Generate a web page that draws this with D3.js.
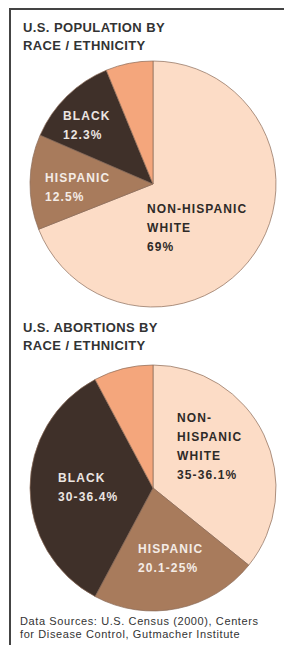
<!DOCTYPE html>
<html>
<head>
<meta charset="utf-8">
<script src="https://cdn.jsdelivr.net/npm/d3@7"></script>
<style>
  body { margin: 0; background: #fff; }
  svg { display: block; font-family: "Liberation Sans", Arial, sans-serif; }
</style>
</head>
<body>
<div id="chart"></div>
<script>
// Slice groups, clockwise from 12 o'clock
const groups = ["Non-Hispanic White", "Hispanic", "Black", "Other"];

// U.S. population share (%)
const popValues = [69, 12.5, 12.3, 6.2];
const popText = ["69%", "12.5%", "12.3%", ""];

// U.S. abortions share (%), slice sizes
const abortValues = [35.8, 22.0, 34.4, 7.8];
const abortText = ["35-36.1%", "20.1-25%", "30-36.4%", ""];

const popNames = [["NON-HISPANIC", "WHITE"], ["HISPANIC"], ["BLACK"], []];
const abortNames = [["NON-", "HISPANIC", "WHITE"], ["HISPANIC"], ["BLACK"], []];

const titles = [
  ["U.S. POPULATION BY", "RACE / ETHNICITY"],
  ["U.S. ABORTIONS BY", "RACE / ETHNICITY"]
];
const sourceLines = [
  "Data Sources: U.S. Census (2000), Centers",
  "for Disease Control, Gutmacher Institute"
];

const width = 284;
const height = 645;
const radius = 123;

const color = d3.scaleOrdinal()
  .domain(groups)
  .range(["#fcdcc6", "#a87b5c", "#3f3029", "#f4a67c"]);

const textColor = d3.scaleOrdinal()
  .domain(groups)
  .range(["#2e2a28", "#f4ece6", "#ece6e2", "#333"]);

const svg = d3.select("#chart").append("svg")
  .attr("width", width)
  .attr("height", height);

// frame (only top and left edges show)
svg.append("line")
  .attr("x1", 10).attr("x2", width)
  .attr("y1", 9).attr("y2", 9)
  .attr("stroke", "#444").attr("stroke-width", 2);
svg.append("line")
  .attr("x1", 10).attr("x2", 10)
  .attr("y1", 8).attr("y2", height)
  .attr("stroke", "#444").attr("stroke-width", 2);

const pie = d3.pie().sort(null).value(d => d.value);
const arc = d3.arc().innerRadius(0).outerRadius(radius);

// label offsets from the pie centre: [dx, dy] of first baseline
const popLabelPos = [[-6, 29], [-108, -2], [-90, -64], null];
const abortLabelPos = [[24, -66], [-15, 65], [-95, -6], null];

function drawPie(cx, cy, values, names, texts, labelPos, title, titleY) {
  const data = groups.map((g, i) => ({ group: g, value: values[i], names: names[i], text: texts[i], pos: labelPos[i] }));

  // title
  svg.append("text")
    .attr("x", 23)
    .attr("y", titleY)
    .attr("fill", "#333")
    .style("font-size", "13px")
    .style("font-weight", "bold")
    .style("letter-spacing", "0.4px")
    .selectAll("tspan")
    .data(title)
    .enter()
    .append("tspan")
    .attr("x", 23)
    .attr("dy", (d, i) => i === 0 ? 0 : 18)
    .text(d => d);

  const g = svg.append("g")
    .attr("transform", `translate(${cx},${cy})`);

  g.selectAll("path")
    .data(pie(data))
    .enter()
    .append("path")
    .attr("d", arc)
    .attr("fill", d => color(d.data.group))
    .attr("stroke", "#8a6a58")
    .attr("stroke-width", 0.7);

  data.forEach(d => {
    if (!d.pos) return;
    const lines = d.names.concat([d.text]);
    const t = g.append("text")
      .attr("x", d.pos[0])
      .attr("y", d.pos[1])
      .attr("fill", textColor(d.group))
      .style("font-size", "12px")
      .style("font-weight", "bold")
      .style("letter-spacing", "1.1px");
    lines.forEach((line, i) => {
      t.append("tspan")
        .attr("x", d.pos[0])
        .attr("dy", i === 0 ? 0 : 19)
        .text(line);
    });
  });
}

drawPie(153, 184, popValues, popNames, popText, popLabelPos, titles[0], 32);
drawPie(153, 488, abortValues, abortNames, abortText, abortLabelPos, titles[1], 332);

// sources
svg.append("text")
  .attr("x", 20)
  .attr("y", 625)
  .attr("fill", "#333")
  .style("font-size", "11px")
  .style("letter-spacing", "0.6px")
  .selectAll("tspan")
  .data(sourceLines)
  .enter()
  .append("tspan")
  .attr("x", 20)
  .attr("dy", (d, i) => i === 0 ? 0 : 13)
  .text(d => d);
</script>
</body>
</html>
